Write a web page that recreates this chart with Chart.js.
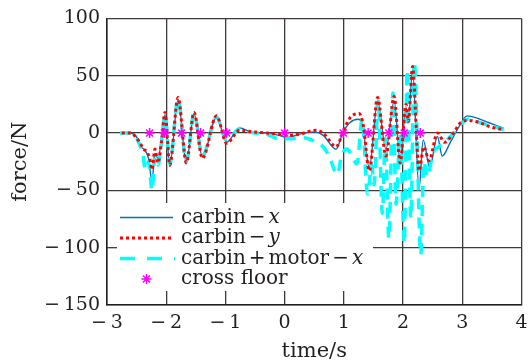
<!DOCTYPE html>
<html>
<head>
<meta charset="utf-8">
<script src="https://cdn.jsdelivr.net/npm/chart.js@4.4.0/dist/chart.umd.min.js"></script>
<style>
  html, body { margin: 0; padding: 0; background: #fff; }
</style>
</head>
<body>
<canvas id="myChart" width="528" height="363"></canvas>
<script>
// carbin-x
var timeX = [-2.78, -2.62, -2.55, -2.48, -2.42, -2.36, -2.30, -2.24, -2.19, -2.14, -2.08, -2.02, -1.94, -1.80, -1.66, -1.53, -1.39, -1.15, -0.98, -0.76, -0.55, -0.30, -0.10, 0.05, 0.25, 0.50, 0.65, 0.87, 0.98, 1.10, 1.24, 1.31, 1.43, 1.57, 1.71, 1.85, 1.95, 2.05, 2.09, 2.16, 2.27, 2.34, 2.45, 2.58, 2.66, 2.80, 2.95, 3.08, 3.25, 3.45, 3.70];
var forceX = [0, 0, -1, -5, -12, -15, -22, -42, -18, -22, -6, 16, -28, 29, -26, 17, -21, 14, -8, 4.5, 0.5, 0, -2, -4, -1, 1, -2, -14, 0, 9, 12, 8, -30, 28, -14, 28, -24, 22, 12, 55, -49, -6, -30, -3, -20, -8, 6, 15, 13, 9, 4];

// carbin-y
var timeY = [-2.75, -2.60, -2.52, -2.45, -2.38, -2.33, -2.28, -2.24, -2.19, -2.14, -2.08, -2.02, -1.94, -1.80, -1.66, -1.53, -1.39, -1.15, -0.98, -0.76, -0.55, -0.30, -0.10, 0.05, 0.25, 0.53, 0.65, 0.87, 0.98, 1.10, 1.26, 1.33, 1.43, 1.57, 1.71, 1.85, 1.95, 2.05, 2.09, 2.16, 2.27, 2.35, 2.44, 2.58, 2.70, 2.85, 2.97, 3.10, 3.30, 3.50, 3.70];
var forceY = [0, 0, -3, -8, -14, -16, -22, -32, -14, -26, -8, 18, -28, 31, -26, 18, -22, 15, -9, 2.5, 1, 0, -1, -2, -1, 2.5, 0, -12, 0, 13, 17, 6, -33, 31, -20, 32, -26, 25, 10, 58, -33, -12, -24, 0, -8, 0, 9, 11, 9, 5, 3];

// carbin+motor-x
var timeM = [-2.78, -2.60, -2.52, -2.45, -2.40, -2.35, -2.30, -2.24, -2.19, -2.14, -2.08, -2.02, -1.94, -1.80, -1.66, -1.53, -1.39, -1.15, -0.98, -0.76, -0.55, -0.30, -0.10, 0.10, 0.30, 0.50, 0.65, 0.75, 0.89, 0.96, 1.05, 1.12, 1.22, 1.31, 1.40, 1.47, 1.51, 1.58, 1.65, 1.70, 1.76, 1.83, 1.88, 1.95, 2.02, 2.07, 2.13, 2.19, 2.30, 2.35, 2.41, 2.50, 2.60, 2.70, 2.80, 2.90, 3.00, 3.10, 3.30, 3.50, 3.70];
var forceM = [0, 0, -3, -10, -17, -32, -25, -50, -20, -28, -8, 16, -27, 29, -25, 17, -20, 14, -7, 4, 0.5, -1, -5, -5, -4, -7, -12, -20, -36, -20, -14, -18, -27, 12, -53, -28, -45, 28, -70, -5, -92, 35, -62, 0, -96, 55, -74, 62, -106, -25, -38, -18, -12, -8, -3, 3, 9, 12, 9, 6, 3];

// cross floor
var timeFloor = [-2.28, -2.03, -1.74, -1.42, -0.98, 0, 0.99, 1.41, 1.76, 2.02, 2.29];
var forceFloor = [0, 0, 0, 0, 0, 0, 0, 0, 0, 0, 0];

var xTicks = [-3, -2, -1, 0, 1, 2, 3, 4];
var yTicks = [-150, -100, -50, 0, 50, 100];

var INK = '#231f20';
var GRID = '#3f3a3a';
var SERIF = "'DejaVu Serif', serif";

function toPoints(t, v) {
  return t.map(function (x, i) { return { x: x, y: v[i] }; });
}

function minusLabel(v) {
  return v < 0 ? '\u2212\u2009' + Math.abs(v) : '' + v;
}

// draws "carbin−x" style labels, italic pieces for the variables
function drawParts(ctx, x, y, parts) {
  parts.forEach(function (p) {
    ctx.font = (p.it ? 'italic ' : '') + '20px ' + SERIF;
    x += p.pre || 0;
    ctx.fillText(p.s, x, y);
    x += ctx.measureText(p.s).width;
  });
}

var legendBox = {
  id: 'legendBox',
  afterDatasetsDraw: function (chart) {
    var ctx = chart.ctx;
    var xs = chart.scales.x, ys = chart.scales.y;
    ctx.save();
    ctx.fillStyle = '#fff';
    ctx.fillRect(xs.left + 1, 203, 372 - xs.left, 88);

    // tick peeking from the left axis
    ctx.strokeStyle = GRID;
    ctx.lineWidth = 1.3;
    ctx.beginPath();
    var yt = ys.getPixelForValue(-100);
    ctx.moveTo(xs.left, yt);
    ctx.lineTo(xs.left + 10, yt);
    ctx.stroke();

    var rows = [222.5, 243, 263.5, 283.5];
    // samples
    ctx.lineCap = 'butt';
    ctx.strokeStyle = '#0072bd';
    ctx.lineWidth = 1.4;
    ctx.beginPath(); ctx.moveTo(120, 217.5); ctx.lineTo(173, 217.5); ctx.stroke();

    ctx.strokeStyle = '#ff0000';
    ctx.lineWidth = 3;
    ctx.setLineDash([3, 3]);
    ctx.beginPath(); ctx.moveTo(120, 238); ctx.lineTo(173, 238); ctx.stroke();

    ctx.strokeStyle = '#00ffff';
    ctx.lineWidth = 3.5;
    ctx.setLineDash([15, 12]);
    ctx.beginPath(); ctx.moveTo(120, 258.5); ctx.lineTo(175, 258.5); ctx.stroke();
    ctx.setLineDash([]);

    ctx.strokeStyle = '#ff00ff';
    ctx.lineWidth = 1.5;
    var r = 5;
    ctx.beginPath();
    for (var k = 0; k < 4; k++) {
      var a = k * Math.PI / 4;
      ctx.moveTo(146.5 - r * Math.cos(a), 279 - r * Math.sin(a));
      ctx.lineTo(146.5 + r * Math.cos(a), 279 + r * Math.sin(a));
    }
    ctx.stroke();

    ctx.fillStyle = INK;
    ctx.textBaseline = 'alphabetic';
    ctx.textAlign = 'left';
    var tx = 181;
    drawParts(ctx, tx, rows[0], [{ s: 'carbin' }, { s: '\u2212', pre: 3 }, { s: 'x', it: true, pre: 3 }]);
    drawParts(ctx, tx, rows[1], [{ s: 'carbin' }, { s: '\u2212', pre: 3 }, { s: 'y', it: true, pre: 3 }]);
    drawParts(ctx, tx, rows[2], [{ s: 'carbin' }, { s: '+', pre: 3 }, { s: 'motor', pre: 3 }, { s: '\u2212', pre: 3 }, { s: 'x', it: true, pre: 3 }]);
    drawParts(ctx, tx, rows[3], [{ s: 'cross floor' }]);

    // axis titles
    ctx.font = '21px ' + SERIF;
    ctx.textAlign = 'center';
    ctx.textBaseline = 'middle';
    ctx.fillText('time/s', (xs.left + xs.right) / 2, 352);
    ctx.translate(21, (ys.top + ys.bottom) / 2);
    ctx.rotate(-Math.PI / 2);
    ctx.fillText('force/N', 0, 0);
    ctx.restore();
  }
};

var ctx = document.getElementById('myChart').getContext('2d');
var chart = new Chart(ctx, {
  type: 'scatter',
  data: {
    datasets: [{
      label: 'cross floor',
      data: toPoints(timeFloor, forceFloor),
      showLine: false,
      pointStyle: 'star',
      pointRadius: 5,
      borderColor: '#ff00ff',
      backgroundColor: '#ff00ff',
      borderWidth: 1.5,
      order: 0
    }, {
      label: 'carbin-y',
      data: toPoints(timeY, forceY),
      showLine: true,
      borderColor: '#ff0000',
      borderWidth: 3,
      borderDash: [3, 3],
      pointRadius: 0,
      cubicInterpolationMode: 'monotone',
      order: 1
    }, {
      label: 'carbin+motor-x',
      data: toPoints(timeM, forceM),
      showLine: true,
      borderColor: '#00ffff',
      borderWidth: 3.5,
      borderDash: [11, 8],
      pointRadius: 0,
      cubicInterpolationMode: 'monotone',
      order: 2
    }, {
      label: 'carbin-x',
      data: toPoints(timeX, forceX),
      showLine: true,
      borderColor: '#0072bd',
      borderWidth: 1.4,
      pointRadius: 0,
      cubicInterpolationMode: 'monotone',
      order: 3
    }]
  },
  options: {
    responsive: false,
    animation: false,
    devicePixelRatio: 1,
    layout: { padding: { top: 17, right: 0, left: 0, bottom: 0 } },
    plugins: {
      legend: { display: false },
      tooltip: { enabled: false }
    },
    scales: {
      x: {
        type: 'linear',
        min: -3,
        max: 4,
        afterFit: function (s) { s.height = 58; s.paddingRight = 5; s.paddingLeft = 0; },
        afterBuildTicks: function (s) { s.ticks = xTicks.map(function (v) { return { value: v }; }); },
        grid: { color: GRID, lineWidth: 1.3, drawTicks: false },
        border: { color: INK, width: 1.5 },
        ticks: {
          padding: 7,
          color: INK,
          font: { family: SERIF, size: 19 },
          callback: minusLabel
        }
      },
      y: {
        min: -150,
        max: 100,
        afterFit: function (s) { s.width = 107; },
        afterBuildTicks: function (s) { s.ticks = yTicks.map(function (v) { return { value: v }; }); },
        grid: { color: GRID, lineWidth: 1.3, drawTicks: false },
        border: { color: INK, width: 1.5 },
        ticks: {
          padding: 7,
          color: INK,
          font: { family: SERIF, size: 19 },
          callback: minusLabel
        }
      }
    }
  },
  plugins: [legendBox]
});
</script>
</body>
</html>
